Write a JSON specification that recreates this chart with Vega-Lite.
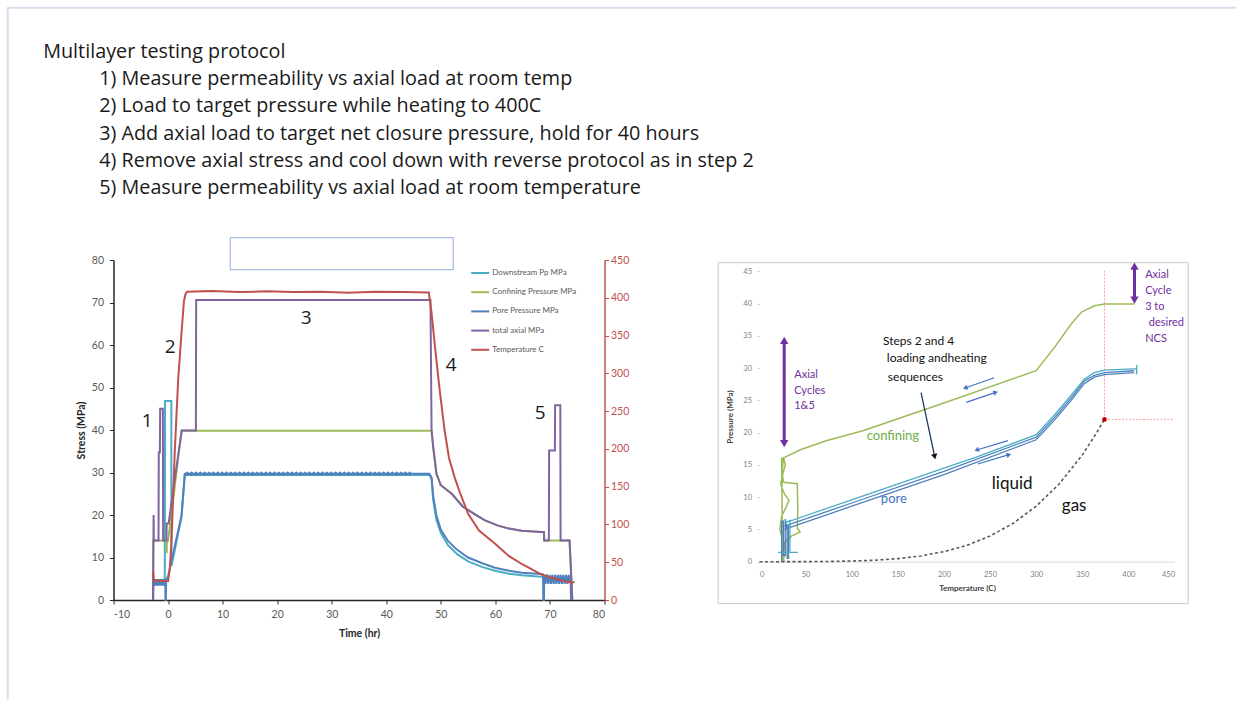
{
"$schema":"https://vega.github.io/schema/vega-lite/v6.json",
"background":"white",
"padding":{"left":5.5,"top":6,"right":0,"bottom":0},
"config":{"view":{"stroke":null},"font":"Lato","axis":{"labelFont":"Lato","titleFont":"Lato","labelOverlap":false},"legend":{"labelFont":"Lato"}},
"bounds":"flush",
"spacing":155,
"datasets":{
"protocol":[
{"t":-22.886,"v":127.60,"text":"Multilayer testing protocol"},
{"t":-12.621,"v":121.18,"text":"1) Measure permeability vs axial load at room temp"},
{"t":-12.621,"v":114.73,"text":"2) Load to target pressure while heating to 400C"},
{"t":-12.621,"v":108.31,"text":"3) Add axial load to target net closure pressure, hold for 40 hours"},
{"t":-12.621,"v":101.86,"text":"4) Remove axial stress and cool down with reverse protocol as in step 2"},
{"t":-12.621,"v":95.44,"text":"5) Measure permeability vs axial load at room temperature"}
],
"stress":[
{"series":"Downstream Pp MPa","t":-2.75,"v":0},{"series":"Downstream Pp MPa","t":-2.7,"v":4.2},{"series":"Downstream Pp MPa","t":-2.2,"v":3.8},{"series":"Downstream Pp MPa","t":-1.6,"v":4.3},{"series":"Downstream Pp MPa","t":-1.0,"v":3.9},{"series":"Downstream Pp MPa","t":-0.6,"v":4.2},{"series":"Downstream Pp MPa","t":-0.55,"v":46.8},{"series":"Downstream Pp MPa","t":0.6,"v":46.8},{"series":"Downstream Pp MPa","t":0.62,"v":8.0},{"series":"Downstream Pp MPa","t":1.2,"v":11.5},{"series":"Downstream Pp MPa","t":2.46,"v":19.5},{"series":"Downstream Pp MPa","t":3.07,"v":29.4},{"series":"Downstream Pp MPa","t":10,"v":29.4},{"series":"Downstream Pp MPa","t":20,"v":29.4},{"series":"Downstream Pp MPa","t":30,"v":29.4},{"series":"Downstream Pp MPa","t":40,"v":29.4},{"series":"Downstream Pp MPa","t":47.9,"v":29.4},{"series":"Downstream Pp MPa","t":48.3,"v":28.5},{"series":"Downstream Pp MPa","t":48.6,"v":23.5},{"series":"Downstream Pp MPa","t":49.2,"v":18.8},{"series":"Downstream Pp MPa","t":50,"v":15.8},{"series":"Downstream Pp MPa","t":51.3,"v":12.9},{"series":"Downstream Pp MPa","t":53,"v":10.8},{"series":"Downstream Pp MPa","t":55,"v":9.1},{"series":"Downstream Pp MPa","t":57.5,"v":7.8},{"series":"Downstream Pp MPa","t":59.9,"v":6.9},{"series":"Downstream Pp MPa","t":62.5,"v":6.2},{"series":"Downstream Pp MPa","t":64.8,"v":5.8},{"series":"Downstream Pp MPa","t":68.4,"v":5.5},{"series":"Downstream Pp MPa","t":68.8,"v":5.5},{"series":"Downstream Pp MPa","t":68.85,"v":0},
{"series":"Confining Pressure MPa","t":-2.75,"v":0},{"series":"Confining Pressure MPa","t":-2.7,"v":14},{"series":"Confining Pressure MPa","t":-0.3,"v":14},{"series":"Confining Pressure MPa","t":-0.25,"v":11},{"series":"Confining Pressure MPa","t":-0.2,"v":14.2},{"series":"Confining Pressure MPa","t":0,"v":14},{"series":"Confining Pressure MPa","t":0.6,"v":20},{"series":"Confining Pressure MPa","t":1.2,"v":26.5},{"series":"Confining Pressure MPa","t":1.8,"v":33},{"series":"Confining Pressure MPa","t":2.5,"v":39.8},{"series":"Confining Pressure MPa","t":10,"v":39.8},{"series":"Confining Pressure MPa","t":20,"v":39.8},{"series":"Confining Pressure MPa","t":30,"v":39.8},{"series":"Confining Pressure MPa","t":40,"v":39.8},{"series":"Confining Pressure MPa","t":48.3,"v":39.8},{"series":"Confining Pressure MPa","t":48.6,"v":36},{"series":"Confining Pressure MPa","t":49.2,"v":29.7},{"series":"Confining Pressure MPa","t":50,"v":27},{"series":"Confining Pressure MPa","t":52,"v":25},{"series":"Confining Pressure MPa","t":54,"v":22},{"series":"Confining Pressure MPa","t":56.2,"v":20.2},{"series":"Confining Pressure MPa","t":58,"v":18.8},{"series":"Confining Pressure MPa","t":60.5,"v":17.5},{"series":"Confining Pressure MPa","t":62.5,"v":16.8},{"series":"Confining Pressure MPa","t":64.8,"v":16.3},{"series":"Confining Pressure MPa","t":68.4,"v":16},{"series":"Confining Pressure MPa","t":68.9,"v":16},{"series":"Confining Pressure MPa","t":68.95,"v":14},{"series":"Confining Pressure MPa","t":73.6,"v":14},{"series":"Confining Pressure MPa","t":74.1,"v":0},
{"series":"Pore Pressure MPa","t":-2.75,"v":0},{"series":"Pore Pressure MPa","t":-2.72,"v":4.8},{"series":"Pore Pressure MPa","t":-2.6,"v":3.4},{"series":"Pore Pressure MPa","t":-2.45,"v":4.9},{"series":"Pore Pressure MPa","t":-2.3,"v":3.4},{"series":"Pore Pressure MPa","t":-2.15,"v":4.9},{"series":"Pore Pressure MPa","t":-2.0,"v":3.4},{"series":"Pore Pressure MPa","t":-1.85,"v":4.9},{"series":"Pore Pressure MPa","t":-1.7,"v":3.4},{"series":"Pore Pressure MPa","t":-1.55,"v":4.9},{"series":"Pore Pressure MPa","t":-1.4,"v":3.4},{"series":"Pore Pressure MPa","t":-1.25,"v":4.9},{"series":"Pore Pressure MPa","t":-1.1,"v":3.4},{"series":"Pore Pressure MPa","t":-0.95,"v":4.9},{"series":"Pore Pressure MPa","t":-0.8,"v":3.4},{"series":"Pore Pressure MPa","t":-0.65,"v":4.9},{"series":"Pore Pressure MPa","t":-0.5,"v":3.6},{"series":"Pore Pressure MPa","t":-0.47,"v":0},{"series":"Pore Pressure MPa","t":-0.4,"v":0},{"series":"Pore Pressure MPa","t":-0.35,"v":4.6},{"series":"Pore Pressure MPa","t":0,"v":5.6},{"series":"Pore Pressure MPa","t":0.6,"v":9.0},{"series":"Pore Pressure MPa","t":1.2,"v":12.5},{"series":"Pore Pressure MPa","t":1.8,"v":16.0},{"series":"Pore Pressure MPa","t":2.46,"v":19.8},{"series":"Pore Pressure MPa","t":3.07,"v":29.7},
{"series":"Pore Pressure MPa","t":3.5,"v":29.7},{"series":"Pore Pressure MPa","t":4.3,"v":29.7},{"series":"Pore Pressure MPa","t":5.1,"v":29.7},{"series":"Pore Pressure MPa","t":5.9,"v":29.7},{"series":"Pore Pressure MPa","t":6.7,"v":29.7},{"series":"Pore Pressure MPa","t":7.5,"v":29.7},{"series":"Pore Pressure MPa","t":8.3,"v":29.7},{"series":"Pore Pressure MPa","t":9.1,"v":29.7},{"series":"Pore Pressure MPa","t":9.9,"v":29.7},{"series":"Pore Pressure MPa","t":10.7,"v":29.7},{"series":"Pore Pressure MPa","t":11.5,"v":29.7},{"series":"Pore Pressure MPa","t":12.3,"v":29.7},{"series":"Pore Pressure MPa","t":13.1,"v":29.7},{"series":"Pore Pressure MPa","t":13.9,"v":29.7},{"series":"Pore Pressure MPa","t":14.7,"v":29.7},{"series":"Pore Pressure MPa","t":15.5,"v":29.7},{"series":"Pore Pressure MPa","t":16.3,"v":29.7},{"series":"Pore Pressure MPa","t":17.1,"v":29.7},{"series":"Pore Pressure MPa","t":17.9,"v":29.7},{"series":"Pore Pressure MPa","t":18.7,"v":29.7},{"series":"Pore Pressure MPa","t":19.5,"v":29.7},{"series":"Pore Pressure MPa","t":20.3,"v":29.7},{"series":"Pore Pressure MPa","t":21.1,"v":29.7},{"series":"Pore Pressure MPa","t":21.9,"v":29.7},{"series":"Pore Pressure MPa","t":22.7,"v":29.7},{"series":"Pore Pressure MPa","t":23.5,"v":29.7},{"series":"Pore Pressure MPa","t":24.3,"v":29.7},{"series":"Pore Pressure MPa","t":25.1,"v":29.7},{"series":"Pore Pressure MPa","t":25.9,"v":29.7},{"series":"Pore Pressure MPa","t":26.7,"v":29.7},{"series":"Pore Pressure MPa","t":27.5,"v":29.7},{"series":"Pore Pressure MPa","t":28.3,"v":29.7},{"series":"Pore Pressure MPa","t":29.1,"v":29.7},{"series":"Pore Pressure MPa","t":29.9,"v":29.7},{"series":"Pore Pressure MPa","t":30.7,"v":29.7},{"series":"Pore Pressure MPa","t":31.5,"v":29.7},{"series":"Pore Pressure MPa","t":32.3,"v":29.7},{"series":"Pore Pressure MPa","t":33.1,"v":29.7},{"series":"Pore Pressure MPa","t":33.9,"v":29.7},{"series":"Pore Pressure MPa","t":34.7,"v":29.7},{"series":"Pore Pressure MPa","t":35.5,"v":29.7},{"series":"Pore Pressure MPa","t":36.3,"v":29.7},{"series":"Pore Pressure MPa","t":37.1,"v":29.7},{"series":"Pore Pressure MPa","t":37.9,"v":29.7},{"series":"Pore Pressure MPa","t":38.7,"v":29.7},{"series":"Pore Pressure MPa","t":39.5,"v":29.7},{"series":"Pore Pressure MPa","t":40.3,"v":29.7},{"series":"Pore Pressure MPa","t":41.1,"v":29.7},{"series":"Pore Pressure MPa","t":41.9,"v":29.7},{"series":"Pore Pressure MPa","t":42.7,"v":29.7},{"series":"Pore Pressure MPa","t":43.5,"v":29.7},{"series":"Pore Pressure MPa","t":44.3,"v":29.7},
{"series":"Pore Pressure MPa","t":47.9,"v":29.7},{"series":"Pore Pressure MPa","t":48.3,"v":28.8},{"series":"Pore Pressure MPa","t":48.6,"v":24.5},{"series":"Pore Pressure MPa","t":49.2,"v":19.8},{"series":"Pore Pressure MPa","t":50,"v":16.5},{"series":"Pore Pressure MPa","t":51.3,"v":13.9},{"series":"Pore Pressure MPa","t":53,"v":11.8},{"series":"Pore Pressure MPa","t":55,"v":10.0},{"series":"Pore Pressure MPa","t":57.5,"v":8.7},{"series":"Pore Pressure MPa","t":59.9,"v":7.6},{"series":"Pore Pressure MPa","t":62.5,"v":6.9},{"series":"Pore Pressure MPa","t":64.8,"v":6.4},{"series":"Pore Pressure MPa","t":68.4,"v":6.1},{"series":"Pore Pressure MPa","t":68.75,"v":6.0},{"series":"Pore Pressure MPa","t":68.8,"v":0},{"series":"Pore Pressure MPa","t":68.9,"v":0},{"series":"Pore Pressure MPa","t":68.95,"v":5.8},{"series":"Pore Pressure MPa","t":69.2,"v":3.8},{"series":"Pore Pressure MPa","t":69.45,"v":6.0},{"series":"Pore Pressure MPa","t":69.7,"v":3.8},{"series":"Pore Pressure MPa","t":69.95,"v":5.9},{"series":"Pore Pressure MPa","t":70.2,"v":3.8},{"series":"Pore Pressure MPa","t":70.45,"v":5.9},{"series":"Pore Pressure MPa","t":70.7,"v":3.8},{"series":"Pore Pressure MPa","t":70.95,"v":5.9},{"series":"Pore Pressure MPa","t":71.2,"v":3.8},{"series":"Pore Pressure MPa","t":71.45,"v":5.9},{"series":"Pore Pressure MPa","t":71.7,"v":3.8},{"series":"Pore Pressure MPa","t":71.95,"v":5.9},{"series":"Pore Pressure MPa","t":72.2,"v":3.8},{"series":"Pore Pressure MPa","t":72.45,"v":5.9},{"series":"Pore Pressure MPa","t":72.7,"v":3.8},{"series":"Pore Pressure MPa","t":72.95,"v":5.9},{"series":"Pore Pressure MPa","t":73.2,"v":3.8},{"series":"Pore Pressure MPa","t":73.45,"v":5.9},{"series":"Pore Pressure MPa","t":73.7,"v":4.2},{"series":"Pore Pressure MPa","t":73.8,"v":5.0},{"series":"Pore Pressure MPa","t":73.85,"v":0},
{"series":"total axial MPa","t":-2.75,"v":0},{"series":"total axial MPa","t":-2.65,"v":20},{"series":"total axial MPa","t":-2.6,"v":14},{"series":"total axial MPa","t":-1.75,"v":14},{"series":"total axial MPa","t":-1.7,"v":34.7},{"series":"total axial MPa","t":-1.5,"v":34.7},{"series":"total axial MPa","t":-1.45,"v":45},{"series":"total axial MPa","t":-0.95,"v":45},{"series":"total axial MPa","t":-0.9,"v":14},{"series":"total axial MPa","t":-0.3,"v":14},{"series":"total axial MPa","t":-0.25,"v":18},{"series":"total axial MPa","t":0.1,"v":18},{"series":"total axial MPa","t":1.3,"v":29},{"series":"total axial MPa","t":2.5,"v":39.9},{"series":"total axial MPa","t":5.1,"v":39.9},{"series":"total axial MPa","t":5.15,"v":70.6},{"series":"total axial MPa","t":10,"v":70.6},{"series":"total axial MPa","t":20,"v":70.6},{"series":"total axial MPa","t":30,"v":70.6},{"series":"total axial MPa","t":40,"v":70.6},{"series":"total axial MPa","t":48.1,"v":70.6},{"series":"total axial MPa","t":48.3,"v":40},{"series":"total axial MPa","t":48.6,"v":36},{"series":"total axial MPa","t":49.2,"v":29.7},{"series":"total axial MPa","t":50,"v":27},{"series":"total axial MPa","t":52,"v":25},{"series":"total axial MPa","t":54,"v":22},{"series":"total axial MPa","t":56.2,"v":20.2},{"series":"total axial MPa","t":58,"v":18.8},{"series":"total axial MPa","t":60.5,"v":17.5},{"series":"total axial MPa","t":62.5,"v":16.8},{"series":"total axial MPa","t":64.8,"v":16.3},{"series":"total axial MPa","t":68.4,"v":16},{"series":"total axial MPa","t":68.9,"v":16},{"series":"total axial MPa","t":68.95,"v":14},{"series":"total axial MPa","t":69.8,"v":14},{"series":"total axial MPa","t":69.85,"v":35.2},{"series":"total axial MPa","t":70.9,"v":35.2},{"series":"total axial MPa","t":70.95,"v":45.8},{"series":"total axial MPa","t":71.9,"v":45.8},{"series":"total axial MPa","t":71.95,"v":14},{"series":"total axial MPa","t":73.6,"v":14},{"series":"total axial MPa","t":74.1,"v":0}
],
"temp":[
{"series":"Temperature C","t":-2.75,"v":38},{"series":"Temperature C","t":-2.6,"v":26},{"series":"Temperature C","t":-1.5,"v":25},{"series":"Temperature C","t":0,"v":25},{"series":"Temperature C","t":0.3,"v":40},{"series":"Temperature C","t":0.63,"v":78},{"series":"Temperature C","t":1.24,"v":198},{"series":"Temperature C","t":1.85,"v":291},{"series":"Temperature C","t":2.46,"v":353},{"series":"Temperature C","t":2.9,"v":395},{"series":"Temperature C","t":3.2,"v":405},{"series":"Temperature C","t":3.5,"v":408},{"series":"Temperature C","t":8,"v":409},{"series":"Temperature C","t":13,"v":407.5},{"series":"Temperature C","t":18,"v":408.5},{"series":"Temperature C","t":23,"v":407.5},{"series":"Temperature C","t":28,"v":408},{"series":"Temperature C","t":33,"v":406.5},{"series":"Temperature C","t":38,"v":408},{"series":"Temperature C","t":43,"v":407.5},{"series":"Temperature C","t":47.8,"v":407},{"series":"Temperature C","t":48.3,"v":380},{"series":"Temperature C","t":49,"v":330},{"series":"Temperature C","t":49.8,"v":277},{"series":"Temperature C","t":50.7,"v":224},{"series":"Temperature C","t":51.5,"v":188},{"series":"Temperature C","t":52.5,"v":163},{"series":"Temperature C","t":53.5,"v":142},{"series":"Temperature C","t":55,"v":114},{"series":"Temperature C","t":57,"v":92},{"series":"Temperature C","t":60,"v":74},{"series":"Temperature C","t":62.5,"v":58},{"series":"Temperature C","t":65,"v":47},{"series":"Temperature C","t":68.4,"v":34},{"series":"Temperature C","t":70,"v":30},{"series":"Temperature C","t":72,"v":26},{"series":"Temperature C","t":74,"v":23},{"series":"Temperature C","t":74.5,"v":24}
],
"rconf":[
{"T":27,"P":0},{"T":24,"P":1.5},{"T":26,"P":3},{"T":22,"P":5},{"T":24,"P":7},{"T":29,"P":8.5},{"T":32,"P":9.5},{"T":27,"P":10.5},{"T":23,"P":12},{"T":25,"P":13.5},{"T":28,"P":15},{"T":26,"P":16.2},{"T":24.5,"P":14},{"T":26,"P":12.3},{"T":41,"P":12.1},{"T":41.5,"P":8},{"T":41,"P":5.2},{"T":44,"P":4.6},{"T":35,"P":4},{"T":27,"P":3},{"T":28,"P":1},{"T":25,"P":0.3},{"T":24,"P":16.0},{"T":27.1,"P":16.17},{"T":45,"P":17.4},{"T":72.3,"P":18.76},{"T":112.1,"P":20.31},{"T":200,"P":24.6},{"T":300,"P":29.61},{"T":319.9,"P":33.22},{"T":338,"P":36.85},{"T":348.9,"P":38.65},{"T":352.4,"P":38.91},{"T":363.3,"P":39.68},{"T":374.1,"P":39.95},{"T":406.6,"P":39.95}
],
"rpore":[
{"run":"A","T":24,"P":0},{"run":"A","T":24,"P":6.3},{"run":"A","T":26,"P":6.3},{"run":"A","T":26,"P":1},{"run":"A","T":28,"P":1},{"run":"A","T":28,"P":6.6},{"run":"A","T":30,"P":5},{"run":"A","T":30,"P":0.5},{"run":"A","T":31.5,"P":0.5},{"run":"A","T":31.5,"P":5.6},{"run":"A","T":27,"P":5.0},{"run":"A","T":100,"P":8.6},{"run":"A","T":200,"P":13.5},{"run":"A","T":300,"P":18.9},{"run":"A","T":319.6,"P":21.9},{"run":"A","T":338,"P":25.0},{"run":"A","T":352.1,"P":27.6},{"run":"A","T":363,"P":28.6},{"run":"A","T":374.1,"P":29.0},{"run":"A","T":406.3,"P":29.3},
{"run":"B","T":27,"P":5.5},{"run":"B","T":100,"P":9.1},{"run":"B","T":200,"P":14.0},{"run":"B","T":300,"P":19.3},{"run":"B","T":319.6,"P":22.3},{"run":"B","T":338,"P":25.4},{"run":"B","T":352.1,"P":28.0},{"run":"B","T":363,"P":28.9},{"run":"B","T":374.1,"P":29.3},{"run":"B","T":406.3,"P":29.6},
{"run":"C","T":20,"P":1.45},{"run":"C","T":41.6,"P":1.45},{"run":"C","T":33,"P":1.45},{"run":"C","T":33,"P":6.4},{"run":"C","T":27,"P":6.0},{"run":"C","T":100,"P":9.6},{"run":"C","T":200,"P":14.5},{"run":"C","T":235,"P":16.2},{"run":"C","T":300,"P":19.7},{"run":"C","T":319.6,"P":22.7},{"run":"C","T":338,"P":25.8},{"run":"C","T":352.1,"P":28.3},{"run":"C","T":363,"P":29.3},{"run":"C","T":374.1,"P":29.7},{"run":"C","T":406.3,"P":29.9},{"run":"C","T":409,"P":29.9},{"run":"C","T":409,"P":30.5},{"run":"C","T":409,"P":29.0}
],
"sat":[
{"T":0,"P":0},{"T":25,"P":0.003},{"T":50,"P":0.012},{"T":75,"P":0.039},{"T":100,"P":0.101},{"T":125,"P":0.232},{"T":150,"P":0.476},{"T":175,"P":0.892},{"T":200,"P":1.555},{"T":225,"P":2.548},{"T":250,"P":3.976},{"T":275,"P":5.95},{"T":300,"P":8.59},{"T":325,"P":12.05},{"T":350,"P":16.53},{"T":365,"P":19.85},{"T":374.1,"P":22.06}
]
},
"hconcat":[
{
"width":491,"height":340,
"resolve":{"scale":{"y":"independent"}},
"layer":[
{"encoding":{
  "x":{"field":"t","type":"quantitative","scale":{"domain":[-10,80],"nice":false,"zero":false},"axis":{"title":"Time (hr)","values":[-10,0,10,20,30,40,50,60,70,80],"labelExpr":"toString(datum.value)","labelOverlap":false,"grid":false,"domainColor":"#262626","domainWidth":1.5,"tickColor":"#262626","tickSize":4,"labelColor":"#595959","labelFontSize":10.5,"labelPadding":5,"titleFontSize":10.5,"titleFontWeight":"bold","titleColor":"#262626","titlePadding":9}},
  "y":{"field":"v","type":"quantitative","scale":{"domain":[0,80],"nice":false,"zero":false},"axis":{"title":"Stress (MPa)","values":[0,10,20,30,40,50,60,70,80],"labelOverlap":false,"grid":false,"domainColor":"#262626","domainWidth":1.5,"tickColor":"#262626","tickSize":4,"labelColor":"#595959","labelFontSize":10.5,"labelPadding":6,"titleFontSize":10.5,"titleFontWeight":"bold","titleColor":"#262626","titlePadding":5}}},
 "layer":[
{"data":{"name":"stress"},
 "mark":{"type":"line","strokeWidth":2},
 "encoding":{
  "color":{"field":"series","type":"nominal","scale":{"domain":["Downstream Pp MPa","Confining Pressure MPa","Pore Pressure MPa","total axial MPa","Temperature C"],"range":["#4bacc6","#9bbb59","#4f81bd","#8064a2","#c0504d"]},"legend":{"orient":"none","legendX":356.7,"legendY":3,"title":null,"symbolType":"stroke","symbolSize":324,"symbolStrokeWidth":2,"labelFontSize":8,"labelColor":"#595959","labelOffset":2,"rowPadding":5.2}},
  "order":{"value":null}}},
{"data":{"name":"stress"},
 "transform":[{"filter":"datum.series == 'Pore Pressure MPa' && datum.t >= 3.4 && datum.t <= 45"}],
 "mark":{"type":"point","shape":"diamond","size":24,"filled":true,"opacity":1,"color":"#4f81bd"}},
{"data":{"values":[{"t":-29.485,"b":195.79,"v":139.365,"d":139.365},{"t":-29.393,"b":-29.393,"v":139.365,"d":-23.459}]},
 "mark":{"type":"rule","color":"#d5dfee","strokeWidth":2},
 "encoding":{"x2":{"field":"b"},"y2":{"field":"d"}}},
{"data":{"name":"protocol"},
 "mark":{"type":"text","align":"left","baseline":"alphabetic","fontSize":19.8,"color":"#1a1a1a","font":"Open Sans"},
 "encoding":{"text":{"field":"text"}}},
{"data":{"values":[{"t":11.39,"b":52.27,"v":85.25,"d":77.72}]},
 "mark":{"type":"rect","fillOpacity":0,"stroke":"#8eaadb","strokeWidth":1},
 "encoding":{"x2":{"field":"b"},"y2":{"field":"d"}}},
{"data":{"values":[{"t":-3.823,"v":42.19,"k":"1"},{"t":0.39,"v":59.6,"k":"2"},{"t":25.32,"v":66.31,"k":"3"},{"t":51.9,"v":55.36,"k":"4"},{"t":68.21,"v":43.95,"k":"5"}]},
 "mark":{"type":"text","align":"center","baseline":"middle","fontSize":19,"color":"#1a1a1a","font":"Open Sans"},
 "encoding":{"text":{"field":"k"}}}
]},
{"data":{"name":"temp"},
 "mark":{"type":"line","strokeWidth":2},
 "encoding":{
  "x":{"field":"t","type":"quantitative","scale":{"domain":[-10,80],"nice":false,"zero":false},"axis":{"title":"Time (hr)","values":[-10,0,10,20,30,40,50,60,70,80],"labelExpr":"toString(datum.value)","labelOverlap":false,"grid":false,"domainColor":"#262626","domainWidth":1.5,"tickColor":"#262626","tickSize":4,"labelColor":"#595959","labelFontSize":10.5,"labelPadding":5,"titleFontSize":10.5,"titleFontWeight":"bold","titleColor":"#262626","titlePadding":9}},
  "y":{"field":"v","type":"quantitative","scale":{"domain":[0,450],"nice":false,"zero":false},"axis":{"orient":"right","title":null,"values":[0,50,100,150,200,250,300,350,400,450],"labelOverlap":false,"grid":false,"domainColor":"#c0504d","domainWidth":1.5,"tickColor":"#c0504d","tickSize":4,"labelColor":"#c0504d","labelFontSize":10.5,"labelPadding":2}},
  "color":{"field":"series","type":"nominal","scale":{"domain":["Downstream Pp MPa","Confining Pressure MPa","Pore Pressure MPa","total axial MPa","Temperature C"],"range":["#4bacc6","#9bbb59","#4f81bd","#8064a2","#c0504d"]},"legend":{"orient":"none","legendX":356.7,"legendY":3,"title":null,"symbolType":"stroke","symbolSize":324,"symbolStrokeWidth":2,"labelFontSize":8,"labelColor":"#595959","labelOffset":2,"rowPadding":5.2}},
  "order":{"value":null}}}
]
},
{
"width":415,"height":301.7,
"encoding":{
  "x":{"field":"T","type":"quantitative","scale":{"domain":[0,450],"nice":false,"zero":false},"axis":{"title":"Temperature (C)","values":[0,50,100,150,200,250,300,350,400,450],"labelOverlap":false,"grid":false,"domainColor":"#d9d9d9","domainWidth":1,"ticks":false,"tickSize":0,"labelColor":"#7f7f7f","labelFontSize":7.5,"labelPadding":9,"titleFontSize":8,"titleFontWeight":"bold","titleColor":"#404040","titlePadding":6}},
  "y":{"field":"P","type":"quantitative","scale":{"domain":[0,45],"nice":false,"zero":false,"range":[301.7,11.4]},"axis":{"title":"Pressure (MPa)","values":[0,5,10,15,20,25,30,35,40,45],"labelOverlap":false,"grid":false,"domain":false,"ticks":true,"tickColor":"#d9d9d9","tickSize":3,"labelColor":"#7f7f7f","labelFontSize":7.5,"labelPadding":5,"titleFontSize":8,"titleFontWeight":"bold","titleColor":"#404040","titlePadding":8}}},
"layer":[
{"data":{"values":[{"T":-44.78,"b":464.86,"P":46.35,"d":-6.51}]},
 "mark":{"type":"rect","fillOpacity":0,"stroke":"#c8c8c8","strokeWidth":1},
 "encoding":{"x2":{"field":"b"},"y2":{"field":"d"}}},
{"data":{"name":"rconf"},
 "mark":{"type":"line","color":"#9bbb59","strokeWidth":1.5},
 "encoding":{"order":{"value":null}}},
{"data":{"values":[{"T":374.1,"b":374.1,"P":22.06,"d":45.1},{"T":374.1,"b":448.3,"P":22.06,"d":22.06}]},
 "mark":{"type":"rule","color":"#ff8a8a","strokeWidth":1,"strokeDash":[2,1.5],"opacity":0.8},
 "encoding":{"x2":{"field":"b"},"y2":{"field":"d"}}},
{"data":{"name":"sat"},
 "mark":{"type":"line","color":"#595959","strokeWidth":1.6,"strokeDash":[3,2.5]},
 "encoding":{"order":{"value":null}}},
{"data":{"name":"rpore"},
 "transform":[{"filter":"datum.run != 'C'"}],
 "mark":{"type":"line","color":"#4f81bd","strokeWidth":1.3},
 "encoding":{"detail":{"field":"run"},"order":{"value":null}}},
{"data":{"name":"rpore"},
 "transform":[{"filter":"datum.run == 'C'"}],
 "mark":{"type":"line","color":"#4bacc6","strokeWidth":1.3},
 "encoding":{"order":{"value":null}}},
{"data":{"values":[{"T":374.1,"P":22.06}]},
 "mark":{"type":"point","filled":true,"color":"#c00000","size":22,"opacity":1}},
{"data":{"values":[{"T":26.78,"P":18.3,"d":34.3},{"T":406.6,"P":40.55,"d":45.8}]},
 "mark":{"type":"rule","color":"#7030a0","strokeWidth":3},
 "encoding":{"y2":{"field":"d"}}},
{"data":{"values":[{"T":26.78,"P":34.3},{"T":406.6,"P":45.8}]},
 "mark":{"type":"point","shape":"triangle-up","filled":true,"color":"#7030a0","size":70,"opacity":1}},
{"data":{"values":[{"T":26.78,"P":18.3},{"T":406.6,"P":40.55}]},
 "mark":{"type":"point","shape":"triangle-down","filled":true,"color":"#7030a0","size":70,"opacity":1}},
{"data":{"values":[{"T":175.2,"b":189.98,"P":26.2,"d":16.28}]},
 "mark":{"type":"rule","color":"#1f3864","strokeWidth":1.3},
 "encoding":{"x2":{"field":"b"},"y2":{"field":"d"}}},
{"data":{"values":[{"T":189.98,"P":16.28}]},
 "mark":{"type":"point","shape":"triangle-up","filled":true,"color":"#111111","size":40,"angle":168,"opacity":1}},
{"data":{"values":[{"T":254.5,"b":223.0,"P":28.52,"d":26.93},{"T":224.1,"b":256.1,"P":24.69,"d":26.24},{"T":269.3,"b":235.5,"P":18.76,"d":17.32},{"T":236.8,"b":270.5,"P":15.14,"d":16.59}]},
 "mark":{"type":"rule","color":"#4472c4","strokeWidth":1.2},
 "encoding":{"x2":{"field":"b"},"y2":{"field":"d"}}},
{"data":{"values":[{"T":223.0,"P":26.93},{"T":235.5,"P":17.32}]},
 "mark":{"type":"point","shape":"triangle-up","filled":true,"color":"#4472c4","size":28,"angle":251,"opacity":1}},
{"data":{"values":[{"T":256.1,"P":26.24},{"T":270.5,"P":16.59}]},
 "mark":{"type":"point","shape":"triangle-up","filled":true,"color":"#4472c4","size":28,"angle":72,"opacity":1}},
{"data":{"values":[{"T":37.63,"P":28.99,"k":"Axial"},{"T":37.63,"P":26.51,"k":"Cycles"},{"T":37.63,"P":24.07,"k":"1&5"},{"T":418.2,"P":44.49,"k":"Axial"},{"T":418.2,"P":42.01,"k":"Cycle"},{"T":418.2,"P":39.42,"k":"3 to"},{"T":422.2,"P":36.94,"k":"desired"},{"T":418.2,"P":34.57,"k":"NCS"}]},
 "mark":{"type":"text","align":"left","baseline":"middle","fontSize":11,"color":"#7030a0","font":"Lato"},
 "encoding":{"text":{"field":"k"}}},
{"data":{"values":[{"T":133.8,"P":34.26,"k":"Steps 2 and 4"},{"T":138.1,"P":31.51,"k":"loading andheating"},{"T":139.2,"P":28.57,"k":"sequences"}]},
 "mark":{"type":"text","align":"left","baseline":"middle","fontSize":12,"color":"#111111","font":"Lato"},
 "encoding":{"text":{"field":"k"}}},
{"data":{"values":[{"T":144.65,"P":19.53,"k":"confining"}]},
 "mark":{"type":"text","align":"center","baseline":"middle","fontSize":13,"color":"#70ad47","font":"Lato"},
 "encoding":{"text":{"field":"k"}}},
{"data":{"values":[{"T":145.7,"P":9.72,"k":"pore"}]},
 "mark":{"type":"text","align":"center","baseline":"middle","fontSize":13,"color":"#4472c4","font":"Lato"},
 "encoding":{"text":{"field":"k"}}},
{"data":{"values":[{"T":274.0,"P":12.04,"k":"liquid"},{"T":341.2,"P":8.68,"k":"gas"}]},
 "mark":{"type":"text","align":"center","baseline":"middle","fontSize":17,"color":"#111111","font":"Lato"},
 "encoding":{"text":{"field":"k"}}}
]
}
]
}
